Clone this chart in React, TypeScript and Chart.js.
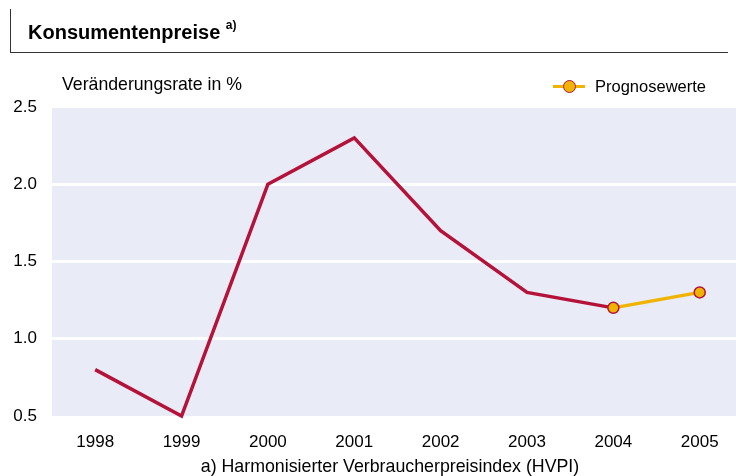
import React, { useEffect, useRef } from "react";
import { Chart, registerables } from "chart.js";

Chart.register(...registerables);

const years = [1998, 1999, 2000, 2001, 2002, 2003, 2004, 2005];
const actualYears = [1998, 1999, 2000, 2001, 2002, 2003, 2004];
const actualValues = [0.8, 0.5, 2.0, 2.3, 1.7, 1.3, 1.2];
const forecastYears = [2004, 2005];
const forecastValues = [1.2, 1.3];
const yTicks = [0.5, 1.0, 1.5, 2.0, 2.5];

const FONT = "'Liberation Sans', Arial, Helvetica, sans-serif";
const RED = "#B5123A";
const YELLOW = "#F0B400";
const BG = "#E9EBF6";

const bgPlugin = {
  id: "plotBg",
  beforeDraw(chart: any) {
    const { ctx, chartArea } = chart;
    if (!chartArea) return;
    ctx.save();
    ctx.fillStyle = BG;
    ctx.fillRect(chartArea.left, chartArea.top + 1, chartArea.right - chartArea.left, chartArea.bottom - chartArea.top - 1);
    ctx.restore();
  },
};

export default function App() {
  const ref = useRef<HTMLCanvasElement | null>(null);

  useEffect(() => {
    if (!ref.current) return;
    const chart = new Chart(ref.current, {
      type: "line",
      data: {
        datasets: [
          {
            label: "Prognosewerte",
            data: forecastYears.map((x, i) => ({ x, y: forecastValues[i] })),
            borderColor: YELLOW,
            borderWidth: 3.5,
            pointRadius: 5.5,
            pointBackgroundColor: YELLOW,
            pointBorderColor: RED,
            pointBorderWidth: 1.5,
            tension: 0,
            order: 0,
          },
          {
            label: "HVPI",
            data: actualYears.map((x, i) => ({ x, y: actualValues[i] })),
            borderColor: RED,
            borderWidth: 3.5,
            pointRadius: 0,
            tension: 0,
            order: 1,
          },
        ],
      },
      options: {
        animation: false,
        responsive: false,
        clip: false as any,
        layout: { autoPadding: false, padding: { top: 107, left: 0, right: 0, bottom: 0 } },
        plugins: { legend: { display: false }, tooltip: { enabled: false } },
        scales: {
          x: {
            type: "linear",
            min: 1997.5,
            max: 2005.42,
            afterBuildTicks: (s: any) => {
              s.ticks = years.map((v) => ({ value: v }));
            },
            afterFit: (s: any) => {
              s.height = 60;
              s.paddingLeft = 0;
              s.paddingRight = 0;
            },
            ticks: {
              callback: (v: any) => String(v),
              font: { family: FONT, size: 17 },
              color: "#000",
              padding: 16,
              autoSkip: false,
              maxRotation: 0,
            },
            grid: { display: false, drawTicks: false },
            border: { display: false },
          },
          y: {
            min: 0.5,
            max: 2.5,
            afterBuildTicks: (s: any) => {
              s.ticks = yTicks.map((v) => ({ value: v }));
            },
            afterFit: (s: any) => {
              s.width = 52;
              s.paddingTop = 0;
              s.paddingBottom = 0;
            },
            ticks: {
              callback: (v: any) => Number(v).toFixed(1),
              font: { family: FONT, size: 17 },
              color: "#000",
              padding: 15,
            },
            grid: {
              drawTicks: false,
              lineWidth: 3,
              color: (c: any) =>
                c.tick && (c.tick.value === 0.5 || c.tick.value === 2.5) ? "rgba(0,0,0,0)" : "#FFFFFF",
            },
            border: { display: false },
          },
        },
      },
      plugins: [bgPlugin],
    });
    return () => chart.destroy();
  }, []);

  return (
    <div
      style={{
        position: "fixed",
        left: 0,
        top: 0,
        width: 736,
        height: 476,
        background: "#fff",
        fontFamily: FONT,
        color: "#000",
        overflow: "hidden",
      }}
    >
      <canvas ref={ref} width={736} height={476} style={{ position: "absolute", left: 0, top: 0 }} />
      <div style={{ position: "absolute", left: 10, top: 9, width: 1, height: 44, background: "#333" }} />
      <div style={{ position: "absolute", left: 10, top: 52, width: 718, height: 1, background: "#333" }} />
      <div style={{ position: "absolute", left: 28, top: 20, fontSize: 20, fontWeight: "bold", whiteSpace: "nowrap", lineHeight: "24px" }}>
        Konsumentenpreise{" "}
        <span style={{ fontSize: 12, position: "relative", top: -10 }}>a)</span>
      </div>
      <div style={{ position: "absolute", left: 62, top: 73, fontSize: 17.7, whiteSpace: "nowrap", lineHeight: "22px" }}>
        Veränderungsrate in %
      </div>
      <div style={{ position: "absolute", left: 553, top: 75, height: 22, width: 180, whiteSpace: "nowrap" }}>
        <div style={{ position: "absolute", left: 0, top: 9.5, width: 32, height: 3.5, background: YELLOW }} />
        <div
          style={{
            position: "absolute",
            left: 9.5,
            top: 4.5,
            width: 11,
            height: 11,
            borderRadius: "50%",
            background: YELLOW,
            border: `1.5px solid ${RED}`,
          }}
        />
        <div style={{ position: "absolute", left: 42, top: 0, fontSize: 16.5, lineHeight: "22px" }}>Prognosewerte</div>
      </div>
      <div
        style={{
          position: "absolute",
          left: 0,
          width: 780,
          top: 455,
          textAlign: "center",
          fontSize: 17.8,
          whiteSpace: "nowrap",
          lineHeight: "22px",
        }}
      >
        a) Harmonisierter Verbraucherpreisindex (HVPI)
      </div>
    </div>
  );
}
